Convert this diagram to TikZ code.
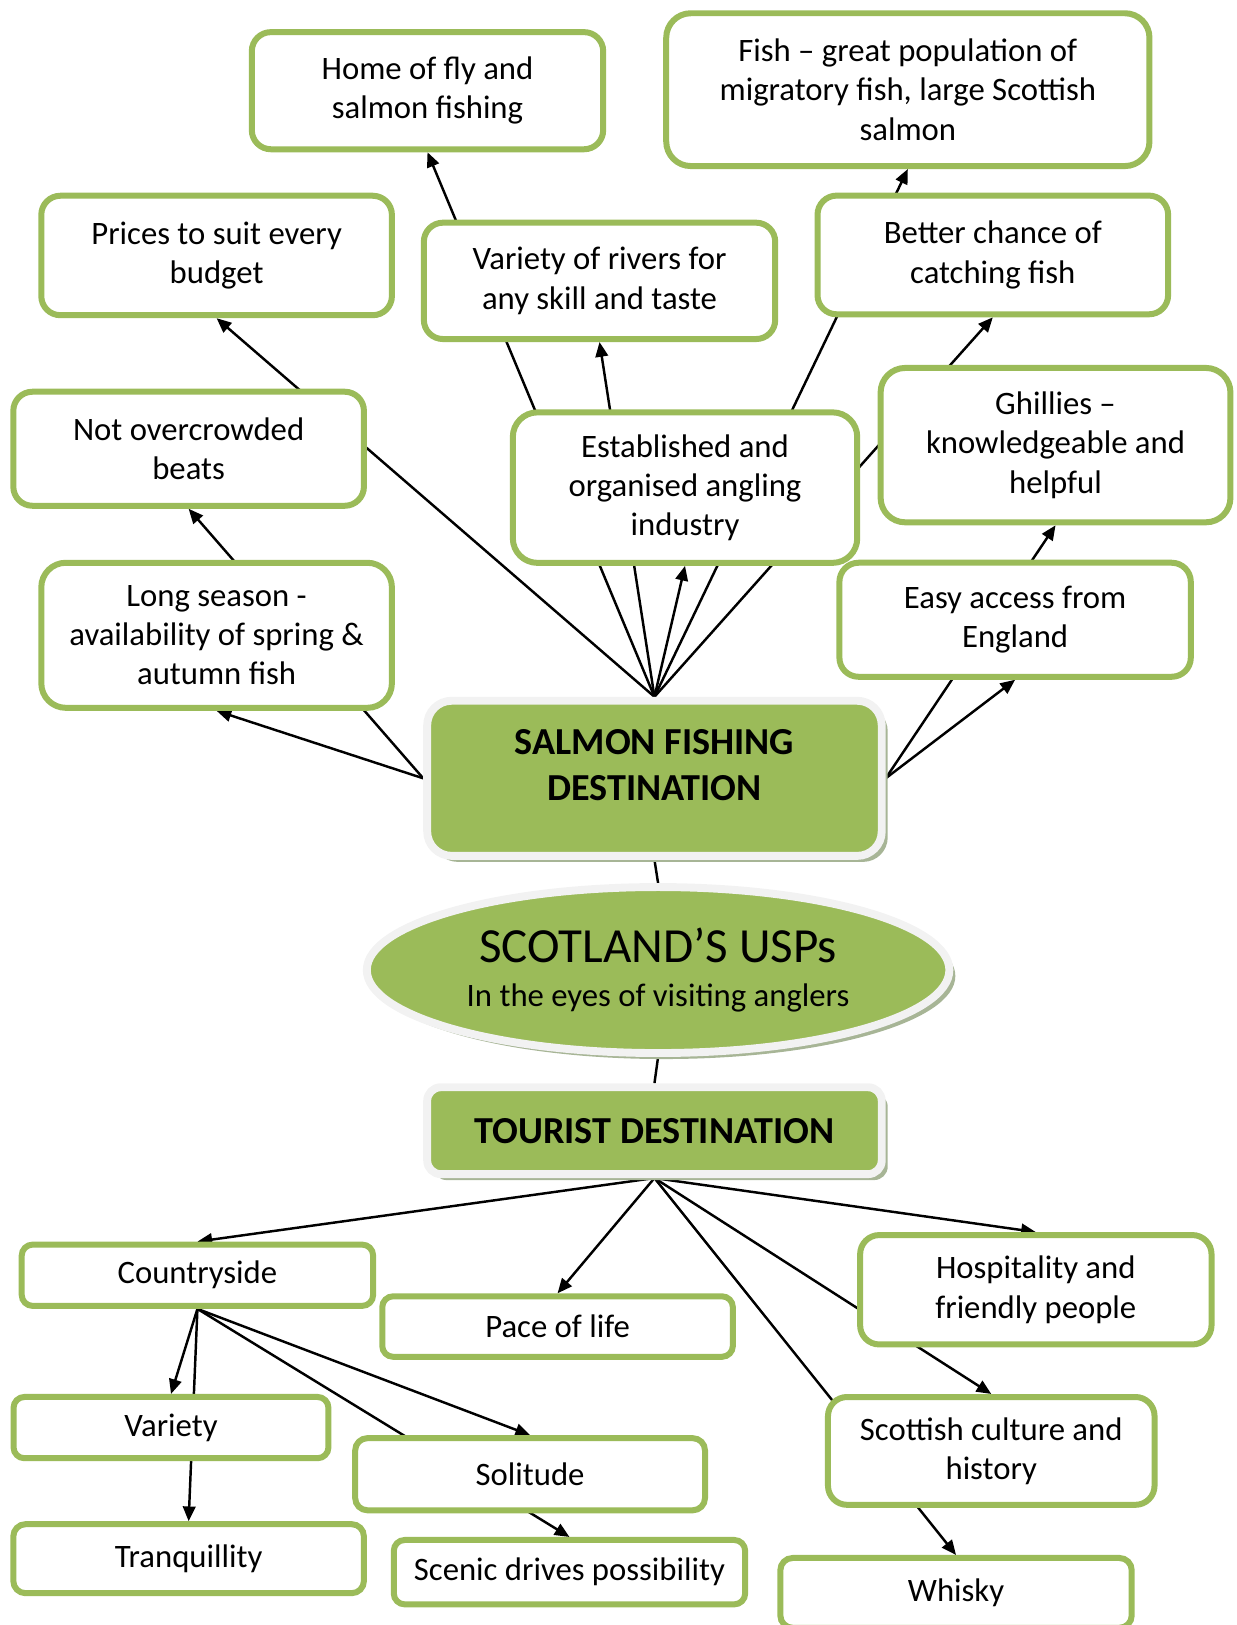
\documentclass[tikz,border=0pt]{standalone}
\usepackage{fontspec}
\setmainfont{Carlito}
\usepackage{tikz}
\usetikzlibrary{arrows.meta,shapes.geometric,shadows,backgrounds}
\definecolor{uspgreen}{HTML}{9BBB59}
\definecolor{framegray}{HTML}{F2F2F2}
\definecolor{shadowgreen}{HTML}{A7B596}
\tikzset{
  itembox/.style={
    draw=uspgreen,
    fill=white,
    line width=2.2pt,
    rounded corners=7pt,
    align=center,
    inner sep=3pt,
    minimum width=45.2mm,
    font=\fontsize{12pt}{14.4pt}\selectfont
  },
  hubbox/.style={
    draw=framegray,
    fill=uspgreen,
    line width=2.9pt,
    rounded corners=9pt,
    align=center,
    inner sep=3pt,
    drop shadow={shadow xshift=2.2pt, shadow yshift=-2.2pt, fill=shadowgreen, opacity=1},
    font=\bfseries\fontsize{14pt}{17pt}\selectfont
  },
  corebox/.style={
    hubbox,
    ellipse,
    font=\fontsize{12pt}{14.6pt}\selectfont
  },
  hubtext/.style={align=center, inner sep=0pt, font=\bfseries\fontsize{14pt}{17pt}\selectfont},
  linkarrow/.style={-{Triangle[length=5.4pt,width=4.6pt]}, line width=0.9pt, draw=black},
  linkline/.style={line width=0.9pt, draw=black}
}

\begin{document}
\begin{tikzpicture}[x=0.1336mm, y=-0.1336mm]
\useasboundingbox (0,0) rectangle (1193,1568);

\node[itembox, minimum width=45.3mm, minimum height=15.1mm] (home) at (412.5,87.5) {Home of fly and\\salmon fishing};
\node[itembox, minimum width=62.3mm, minimum height=19.7mm, rounded corners=9pt] (fish) at (876,86.5) {Fish – great population of\\migratory fish, large Scottish\\salmon};
\node[itembox, minimum height=15.4mm] (prices) at (209,246.5) {Prices to suit every\\budget};
\node[itembox, minimum width=45.3mm, minimum height=15mm] (rivers) at (578.5,271) {Variety of rivers for\\any skill and taste};
\node[itembox, minimum height=15.3mm] (chance) at (958,246) {Better chance of\\catching fish};
\node[itembox, minimum height=14.7mm] (beats) at (182,433) {Not overcrowded\\beats};
\node[itembox, minimum width=44.4mm, minimum height=19.4mm, rounded corners=9pt] (industry) at (661,470.5) {Established and\\organised angling\\industry};
\node[itembox, minimum width=45.1mm, minimum height=19.9mm, rounded corners=9pt] (ghillies) at (1018.5,429.5) {Ghillies –\\knowledgeable and\\helpful};
\node[itembox, minimum height=18.7mm, rounded corners=9pt] (season) at (209,613) {Long season -\\availability of spring \&\\autumn fish};
\node[itembox, minimum width=45.3mm, minimum height=14.7mm] (access) at (979.5,598) {Easy access from\\England};

\node[hubbox, minimum width=58.6mm, minimum height=20mm] (salmon) at (631.5,751) {};
\node[hubtext] (salmontext) at ([yshift=1.7mm]salmon.center) {SALMON FISHING\\DESTINATION};
\node[corebox, minimum width=75.1mm, minimum height=21.4mm] (usps) at (635,936) {{\fontsize{18pt}{22pt}\selectfont SCOTLAND’S USPs}\\[1.6pt]In the eyes of visiting anglers};
\node[hubbox, minimum width=58.6mm, minimum height=11.2mm, rounded corners=5pt] (tourist) at (631.5,1091) {TOURIST DESTINATION};

\node[itembox, minimum width=45.3mm, minimum height=7.9mm, rounded corners=4pt] (countryside) at (190.5,1230.5) {Countryside};
\node[itembox, minimum height=7.8mm, rounded corners=4pt] (pace) at (538,1280) {Pace of life};
\node[itembox, minimum width=45.3mm, minimum height=14.1mm] (hospitality) at (999.5,1244.5) {Hospitality and\\friendly people};
\node[itembox, minimum width=40.6mm, minimum height=7.9mm, rounded corners=4pt] (variety) at (165,1377.5) {Variety};
\node[itembox, minimum width=45.1mm, minimum height=9.3mm, rounded corners=4.5pt] (solitude) at (511.5,1422.5) {Solitude};
\node[itembox, minimum width=42.1mm, minimum height=13.9mm] (culture) at (956.5,1400) {Scottish culture and\\history};
\node[itembox, minimum height=8.9mm, rounded corners=4.5pt] (tranquillity) at (182,1504) {Tranquillity};
\node[itembox, minimum width=45.3mm, minimum height=8.3mm, rounded corners=4pt] (scenic) at (549.5,1517) {Scenic drives possibility};
\node[itembox, minimum width=45.3mm, minimum height=9mm, rounded corners=4.5pt] (whisky) at (922.5,1537) {Whisky};

\begin{scope}[on background layer]
\draw[linkarrow] (salmon.north) -- (prices.south);
\draw[linkarrow] (salmon.north) -- (home.south);
\draw[linkarrow] (salmon.north) -- (rivers.south);
\draw[linkarrow] (salmon.north) -- (industry.south);
\draw[linkarrow] (salmon.north) -- (fish.south);
\draw[linkarrow] (salmon.north) -- (chance.south);
\draw[linkarrow] (salmon.west) -- (season.south);
\draw[linkarrow] (salmon.west) -- (beats.south);
\draw[linkarrow] (salmon.east) -- (access.south);
\draw[linkarrow] (salmon.east) -- (ghillies.south);
\draw[linkline] (salmon.south) -- (usps.north);
\draw[linkline] (usps.south) -- (tourist.north);
\draw[linkarrow] (tourist.south) -- (countryside.north);
\draw[linkarrow] (tourist.south) -- (pace.north);
\draw[linkarrow] (tourist.south) -- (hospitality.north);
\draw[linkarrow] (tourist.south) -- (culture.north);
\draw[linkarrow] (tourist.south) -- (whisky.north);
\draw[linkarrow] (countryside.south) -- (variety.north);
\draw[linkarrow] (countryside.south) -- (tranquillity.north);
\draw[linkarrow] (countryside.south) -- (solitude.north);
\draw[linkarrow] (countryside.south) -- (scenic.north);
\end{scope}
\end{tikzpicture}
\end{document}
